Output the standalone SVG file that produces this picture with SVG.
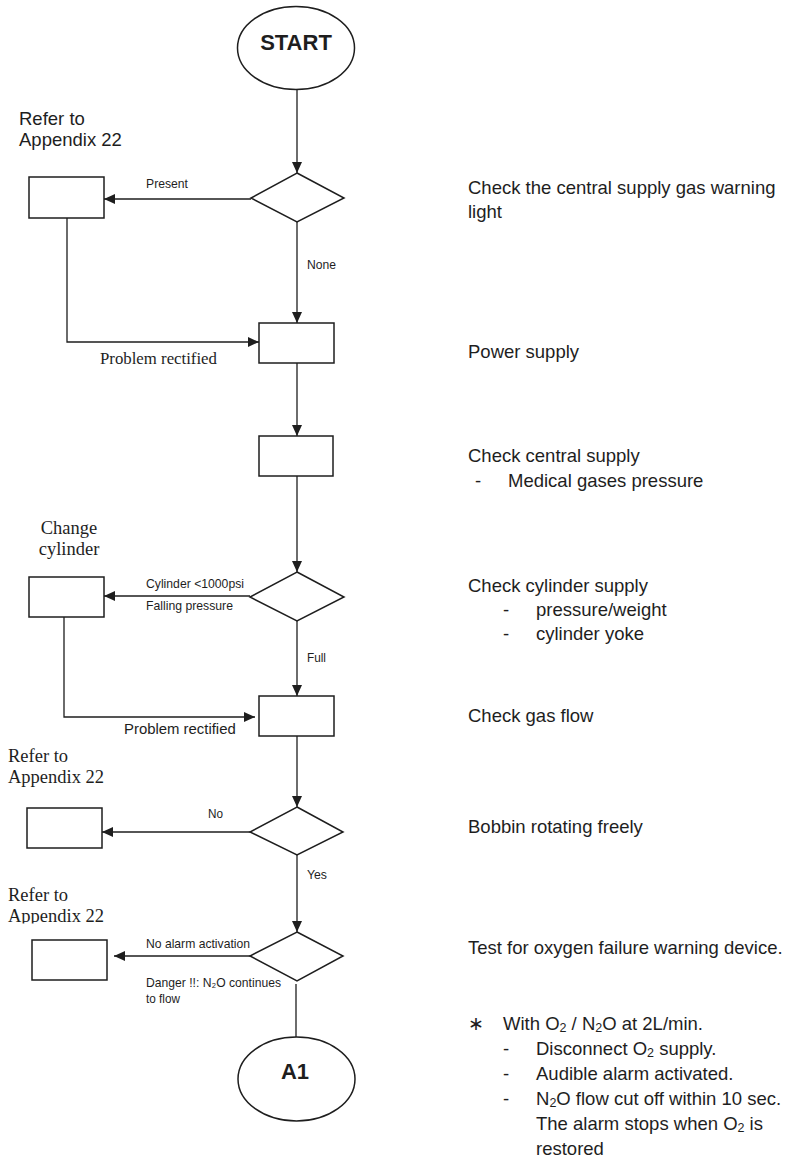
<svg xmlns="http://www.w3.org/2000/svg" width="796" height="1160" viewBox="0 0 796 1160">
  <defs>
    <marker id="arrow" markerUnits="userSpaceOnUse" markerWidth="12" markerHeight="11" refX="11" refY="5" orient="auto">
      <path d="M0,0 L11,5 L0,10 z" fill="#1e1e1e"/>
    </marker>
    <clipPath id="clipRefer3">
      <rect x="0" y="880" width="200" height="43.5"/>
    </clipPath>
  </defs>
  <style>
    .shape { fill: #ffffff; stroke: #1e1e1e; stroke-width: 1.5; }
    .conn { fill: none; stroke: #1e1e1e; stroke-width: 1.3; }
    .arr { marker-end: url(#arrow); }
    .term { font-family: "Liberation Sans", Arial, sans-serif; font-size: 22px; font-weight: bold; fill: #1e1e1e; text-anchor: middle; }
    .lbl { font-family: "Liberation Sans", Arial, sans-serif; font-size: 13.5px; fill: #1e1e1e; }
    .note { font-family: "Liberation Sans", Arial, sans-serif; font-size: 18.5px; fill: #1e1e1e; }
    .snote { font-family: "Liberation Serif", "Times New Roman", serif; font-size: 18.5px; fill: #1e1e1e; }
    .desc { font-family: "Liberation Sans", Arial, sans-serif; font-size: 18.5px; fill: #1e1e1e; }
  </style>

  <!-- connectors -->
  <g id="connectors">
    <line class="conn arr" x1="297" y1="90" x2="297" y2="173"/>
    <line class="conn arr" x1="251" y1="199" x2="104" y2="199"/>
    <line class="conn arr" x1="297" y1="222" x2="297" y2="323"/>
    <polyline class="conn arr" points="67,218 67,342 259,342"/>
    <line class="conn arr" x1="297" y1="363" x2="297" y2="436"/>
    <line class="conn arr" x1="297" y1="476" x2="297" y2="572"/>
    <line class="conn arr" x1="250" y1="596" x2="104" y2="596"/>
    <line class="conn arr" x1="297" y1="621" x2="297" y2="696"/>
    <polyline class="conn arr" points="64,617 64,717 255,717"/>
    <line class="conn arr" x1="297" y1="736" x2="297" y2="807"/>
    <line class="conn arr" x1="250" y1="832" x2="102" y2="832"/>
    <line class="conn arr" x1="297" y1="855" x2="297" y2="932"/>
    <line class="conn arr" x1="250" y1="956" x2="114" y2="956"/>
    <line class="conn" x1="296" y1="984" x2="296" y2="1037"/>

    <!-- connector labels -->
    <text class="lbl" x="146" y="188" textLength="42" lengthAdjust="spacingAndGlyphs">Present</text>
    <text class="lbl" x="307" y="269" textLength="29" lengthAdjust="spacingAndGlyphs">None</text>
    <text x="100" y="364" font-family="Liberation Serif, 'Times New Roman', serif" font-size="16.8" fill="#1e1e1e">Problem rectified</text>
    <text class="lbl" x="146" y="588" textLength="98" lengthAdjust="spacingAndGlyphs">Cylinder &lt;1000psi</text>
    <text class="lbl" x="146" y="610" textLength="87" lengthAdjust="spacingAndGlyphs">Falling pressure</text>
    <text class="lbl" x="307" y="662" textLength="19" lengthAdjust="spacingAndGlyphs">Full</text>
    <text x="124" y="734" font-family="Liberation Sans, Arial, sans-serif" font-size="14.9" fill="#1e1e1e">Problem rectified</text>
    <text class="lbl" x="208" y="818" textLength="15" lengthAdjust="spacingAndGlyphs">No</text>
    <text class="lbl" x="307" y="879" textLength="20" lengthAdjust="spacingAndGlyphs">Yes</text>
    <text class="lbl" x="146" y="948" textLength="104" lengthAdjust="spacingAndGlyphs">No alarm activation</text>
    <text class="lbl" x="146" y="987" textLength="135" lengthAdjust="spacingAndGlyphs">Danger !!: N₂O continues</text>
    <text class="lbl" x="146" y="1003" textLength="34" lengthAdjust="spacingAndGlyphs">to flow</text>
  </g>

  <!-- terminals -->
  <g id="start">
    <ellipse class="shape" cx="296" cy="48" rx="58.5" ry="41.5"/>
    <text class="term" x="296" y="50">START</text>
  </g>
  <g id="a1">
    <ellipse class="shape" cx="296.5" cy="1079" rx="58.5" ry="42"/>
    <text class="term" x="295" y="1079">A1</text>
  </g>

  <!-- decisions -->
  <g id="d-warning-light">
    <polygon class="shape" points="297,173 344,198 297,222 251,198"/>
  </g>
  <g id="d-cylinder-supply">
    <polygon class="shape" points="297,572 344,597 297,621 250,597"/>
  </g>
  <g id="d-bobbin">
    <polygon class="shape" points="297,807 343,832 297,855 250,832"/>
  </g>
  <g id="d-o2-failure">
    <polygon class="shape" points="297,932 343,956 297,981 250,956"/>
  </g>

  <!-- process boxes -->
  <g id="b-appendix-1">
    <rect class="shape" x="29" y="177" width="75" height="41"/>
    <text class="note" x="19" y="125">Refer to</text>
    <text class="note" x="19" y="146">Appendix 22</text>
  </g>
  <g id="b-power">
    <rect class="shape" x="259" y="323" width="75" height="40"/>
  </g>
  <g id="b-central">
    <rect class="shape" x="259" y="436" width="74" height="40"/>
  </g>
  <g id="b-change-cylinder">
    <rect class="shape" x="29" y="577" width="75" height="40"/>
    <text class="snote" x="69" y="534" text-anchor="middle">Change</text>
    <text class="snote" x="69" y="555" text-anchor="middle">cylinder</text>
  </g>
  <g id="b-gas-flow">
    <rect class="shape" x="259" y="696" width="75" height="40"/>
  </g>
  <g id="b-appendix-2">
    <rect class="shape" x="27" y="808" width="75" height="40"/>
    <text class="snote" x="8" y="762">Refer to</text>
    <text class="snote" x="8" y="783">Appendix 22</text>
  </g>
  <g id="b-appendix-3">
    <rect class="shape" x="32" y="940" width="75" height="40"/>
    <g clip-path="url(#clipRefer3)">
      <text class="snote" x="8" y="901">Refer to</text>
      <text class="snote" x="8" y="922">Appendix 22</text>
    </g>
  </g>

  <!-- step descriptions -->
  <g id="descriptions">
    <text class="desc" x="468" y="194">Check the central supply gas warning</text>
    <text class="desc" x="468" y="218">light</text>
    <text class="desc" x="468" y="358">Power supply</text>
    <text class="desc" x="468" y="462">Check central supply</text>
    <text class="desc" x="475" y="487">-</text>
    <text class="desc" x="508" y="487">Medical gases pressure</text>
    <text class="desc" x="468" y="592">Check cylinder supply</text>
    <text class="desc" x="503" y="616">-</text>
    <text class="desc" x="536" y="616">pressure/weight</text>
    <text class="desc" x="503" y="640">-</text>
    <text class="desc" x="536" y="640">cylinder yoke</text>
    <text class="desc" x="468" y="722">Check gas flow</text>
    <text class="desc" x="468" y="833">Bobbin rotating freely</text>
    <text class="desc" x="468" y="954">Test for oxygen failure warning device.</text>
    <text class="desc" x="468" y="1030">∗</text>
    <text class="desc" x="503" y="1030">With O<tspan font-size="12.5" dy="2">2</tspan><tspan dy="-2"> / N</tspan><tspan font-size="12.5" dy="2">2</tspan><tspan dy="-2">O at 2L/min.</tspan></text>
    <text class="desc" x="503" y="1055">-</text>
    <text class="desc" x="536" y="1055">Disconnect O<tspan font-size="12.5" dy="2">2</tspan><tspan dy="-2"> supply.</tspan></text>
    <text class="desc" x="503" y="1080">-</text>
    <text class="desc" x="536" y="1080">Audible alarm activated.</text>
    <text class="desc" x="503" y="1105">-</text>
    <text class="desc" x="536" y="1105">N<tspan font-size="12.5" dy="2">2</tspan><tspan dy="-2">O flow cut off within 10 sec.</tspan></text>
    <text class="desc" x="536" y="1130">The alarm stops when O<tspan font-size="12.5" dy="2">2</tspan><tspan dy="-2"> is</tspan></text>
    <text class="desc" x="536" y="1155">restored</text>
  </g>
</svg>
